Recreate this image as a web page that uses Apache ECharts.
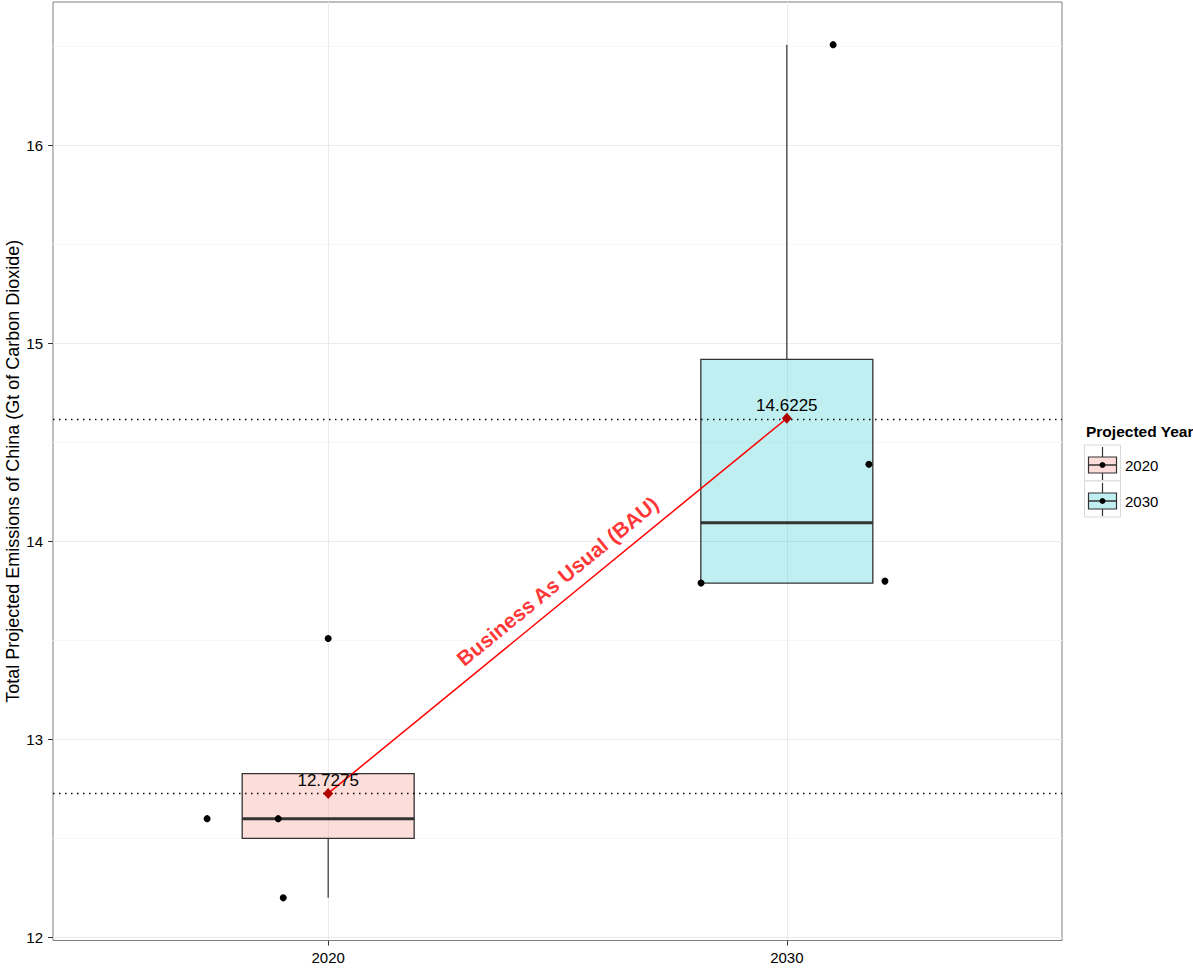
<!DOCTYPE html>
<html>
<head>
<meta charset="utf-8">
<script src="https://cdn.jsdelivr.net/npm/echarts@6/dist/echarts.min.js"></script>
<style>
html,body{margin:0;padding:0;background:#fff;}
#chart{width:1193px;height:968px;}
</style>
</head>
<body>
<div id="chart"></div>
<script>
// ---- data ----
var categories = ['2020', '2030'];
var categoryPos = [1, 2];
var whiskerLow = [12.2, 13.79];
var q1 = [12.5, 13.79];
var median = [12.6, 14.095];
var q3 = [12.8275, 14.92];
var whiskerHigh = [12.8275, 16.51];
var means = [12.7275, 14.6225];
var meanLabels = ['12.7275', '14.6225'];
// jittered observations: [offset from category centre, value]
var points2020 = [[-0.264, 12.6], [-0.109, 12.6], [-0.098, 12.2], [0, 13.51]];
var points2030 = [[-0.187, 13.79], [0.101, 16.51], [0.179, 14.39], [0.214, 13.80]];
var yMajor = [12, 13, 14, 15, 16];
var yMinor = [12.5, 13.5, 14.5, 15.5, 16.5];
var bauLabel = 'Business As Usual (BAU)';
var bauPos = [1.5, 13.8];
var yTitle = 'Total Projected Emissions of China (Gt of Carbon Dioxide)';
var legendTitle = 'Projected Year';

// ---- build ----
var FONT = '"Liberation Sans", Arial, Helvetica, sans-serif';
var fills = ['rgba(248,118,109,0.25)', 'rgba(0,191,196,0.25)'];
var solidFills = ['#FDDCDA', '#BFEFF0'];
var boxData = categories.map(function (c, i) {
  return [categoryPos[i], whiskerLow[i], q1[i], median[i], q3[i], whiskerHigh[i]];
});
var jitter = [];
points2020.forEach(function (p) { jitter.push([categoryPos[0] + p[0], p[1]]); });
points2030.forEach(function (p) { jitter.push([categoryPos[1] + p[0], p[1]]); });
var meanData = categories.map(function (c, i) { return [categoryPos[i], means[i]]; });

var BOX_W = 0.375;
var chart = echarts.init(document.getElementById('chart'), null, { renderer: 'svg' });

function legendKey(i, top) {
  var cx = 1102.5;
  return {
    type: 'group',
    children: [
      { type: 'rect', shape: { x: 1084.5, y: top, width: 36, height: 36 }, style: { fill: '#fff', stroke: '#d9d9d9', lineWidth: 1 } },
      { type: 'line', shape: { x1: cx, y1: top + 2, x2: cx, y2: top + 12 }, style: { stroke: '#333', lineWidth: 1.2 } },
      { type: 'line', shape: { x1: cx, y1: top + 28, x2: cx, y2: top + 35 }, style: { stroke: '#333', lineWidth: 1.2 } },
      { type: 'rect', shape: { x: 1088.5, y: top + 12, width: 28, height: 16 }, style: { fill: solidFills[i], stroke: '#333', lineWidth: 1.2 } },
      { type: 'line', shape: { x1: 1088.5, y1: top + 20, x2: 1116.5, y2: top + 20 }, style: { stroke: '#333', lineWidth: 1.5 } },
      { type: 'circle', shape: { cx: cx, cy: top + 20, r: 3 }, style: { fill: '#000' } },
      { type: 'text', x: 1125, y: top + 20, style: { text: categories[i], fill: '#000', font: '15px ' + FONT, verticalAlign: 'middle' } }
    ]
  };
}

var option = {
  backgroundColor: '#fff',
  animation: false,
  grid: { left: 53, top: 2, width: 1009, height: 938.5, containLabel: false, outerBoundsMode: 'none',
    show: true, borderColor: '#7f7f7f', borderWidth: 1, backgroundColor: 'transparent' },
  xAxis: {
    type: 'value', min: 0.4, max: 2.6,
    axisLine: { show: false },
    splitLine: { show: false },
    axisTick: { show: true, customValues: categoryPos, length: 5, lineStyle: { color: '#333' } },
    axisLabel: { customValues: categoryPos, margin: 9, fontSize: 15, color: '#000', fontFamily: FONT,
      formatter: function (v) { var k = categoryPos.indexOf(v); return k >= 0 ? categories[k] : ''; } }
  },
  yAxis: {
    type: 'value', min: 11.9845, max: 16.7255,
    name: yTitle, nameLocation: 'middle', nameGap: 31, nameRotate: 90, nameMoveOverlap: false,
    nameTextStyle: { fontSize: 18, color: '#000', fontFamily: FONT },
    axisLine: { show: false },
    splitLine: { show: false },
    axisTick: { show: true, customValues: yMajor, length: 5, lineStyle: { color: '#333' } },
    axisLabel: { customValues: yMajor, margin: 10, fontSize: 15, color: '#000', fontFamily: FONT }
  },
  graphic: [
    { type: 'text', x: 1086, y: 431, style: { text: legendTitle, fill: '#000', font: 'bold 15.5px ' + FONT, verticalAlign: 'middle' } },
    legendKey(0, 445),
    legendKey(1, 481)
  ],
  series: [
    {
      type: 'line', data: [], silent: true, z: 0,
      markLine: {
        silent: true, symbol: 'none', label: { show: false }, z: 0,
        data: yMinor.map(function (v) { return { yAxis: v, lineStyle: { color: '#f7f7f7', width: 1, type: 'solid' } }; })
          .concat(yMajor.map(function (v) { return { yAxis: v, lineStyle: { color: '#ebebeb', width: 1, type: 'solid' } }; }))
          .concat(categoryPos.map(function (v) { return { xAxis: v, lineStyle: { color: '#ebebeb', width: 1, type: 'solid' } }; }))
      }
    },
    {
      type: 'custom', name: 'box', z: 20,
      data: boxData,
      encode: { x: 0, y: [1, 2, 3, 4, 5] },
      renderItem: function (params, api) {
        var i = params.dataIndex;
        var x = api.value(0);
        var w = api.size([BOX_W, 0])[0];
        var pLow = api.coord([x, api.value(1)]);
        var pQ1 = api.coord([x, api.value(2)]);
        var pMed = api.coord([x, api.value(3)]);
        var pQ3 = api.coord([x, api.value(4)]);
        var pHigh = api.coord([x, api.value(5)]);
        var left = pQ1[0] - w / 2;
        return {
          type: 'group',
          children: [
            { type: 'line', shape: { x1: pLow[0], y1: pLow[1], x2: pQ1[0], y2: pQ1[1] }, style: { stroke: '#333', lineWidth: 1.2 } },
            { type: 'line', shape: { x1: pHigh[0], y1: pHigh[1], x2: pQ3[0], y2: pQ3[1] }, style: { stroke: '#333', lineWidth: 1.2 } },
            { type: 'rect', shape: { x: left, y: pQ3[1], width: w, height: pQ1[1] - pQ3[1] }, style: { fill: fills[i], stroke: '#333', lineWidth: 1.3 } },
            { type: 'line', shape: { x1: left, y1: pMed[1], x2: left + w, y2: pMed[1] }, style: { stroke: '#333', lineWidth: 3 } }
          ]
        };
      }
    },
    {
      type: 'line', data: meanData, z: 30, symbol: 'none', silent: true,
      lineStyle: { color: '#ff0000', width: 1.5 },
      markLine: {
        silent: true, symbol: 'none', label: { show: false }, z: 30,
        lineStyle: { color: '#000', width: 1.3, type: [1.5, 4.5] },
        data: means.map(function (v) { return { yAxis: v }; })
      }
    },
    {
      type: 'scatter', data: jitter, z: 40, symbol: 'circle', symbolSize: 7,
      itemStyle: { color: '#000', opacity: 1 }
    },
    {
      type: 'scatter', data: meanData, z: 50, symbol: 'diamond', symbolSize: [10, 11],
      itemStyle: { color: '#b00000', opacity: 1 },
      label: { show: true, position: 'top', distance: -1, fontSize: 17, color: '#000', fontFamily: FONT,
        formatter: function (p) { return meanLabels[p.dataIndex]; } }
    },
    {
      type: 'scatter', data: [bauPos], z: 60, symbolSize: 0, silent: true,
      label: { show: true, position: 'inside', rotate: 39.35, fontSize: 21, fontWeight: 'bold', color: '#ff0000', fontFamily: FONT,
        formatter: function () { return bauLabel; } }
    }
  ]
};
chart.setOption(option);
</script>
</body>
</html>
